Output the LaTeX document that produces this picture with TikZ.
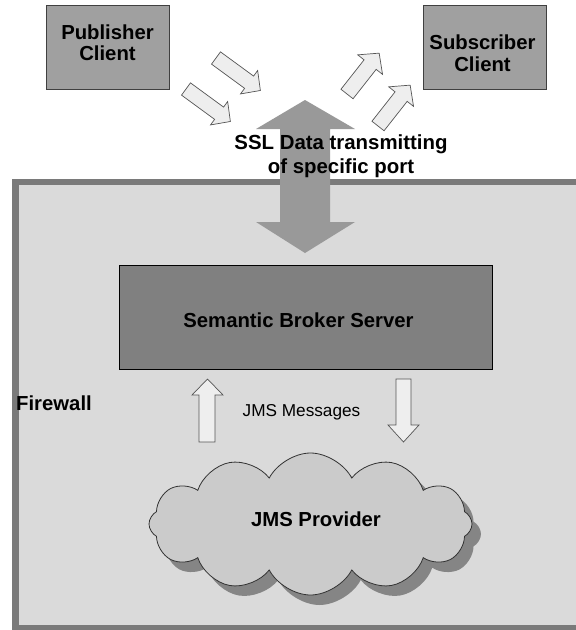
\documentclass[tikz,border=0pt]{standalone}
\usepackage{fontspec}
\setmainfont{Liberation Sans}
\usetikzlibrary{shapes.symbols,shadows}

\definecolor{zonefill}{HTML}{DADADA}
\definecolor{zoneedge}{HTML}{7A7A7A}
\definecolor{clientfill}{HTML}{A0A0A0}
\definecolor{serverfill}{HTML}{808080}
\definecolor{pipefill}{HTML}{999999}
\definecolor{flowfill}{HTML}{EEEEEE}
\definecolor{flowedge}{HTML}{555555}
\definecolor{cloudfill}{HTML}{CBCBCB}
\definecolor{cloudshade}{HTML}{858585}

\tikzset{
  clientbox/.style={draw=black!75, line width=0.8pt, fill=clientfill,
    minimum width=123pt, minimum height=84pt, inner sep=0pt},
  serverbox/.style={draw=black, line width=1pt, fill=serverfill,
    minimum width=373pt, minimum height=104pt, inner sep=0pt},
  boldlabel/.style={font=\bfseries\fontsize{20.3}{21.5}\selectfont, align=center, inner sep=0pt},
  plainlabel/.style={font=\fontsize{17.2}{19}\selectfont, inner sep=0pt},
  flowarrow/.style={draw=flowedge, fill=flowfill, line width=0.7pt, line join=miter},
  % block arrow drawn along local x: length / shaft half width / head half width / head length
  pics/blockarrow/.style args={#1/#2/#3/#4}{
    code={\path[flowarrow] (0,-#2) -- ({#1-#4},-#2) -- ({#1-#4},-#3) -- (#1,0)
      -- ({#1-#4},#3) -- ({#1-#4},#2) -- (0,#2) -- cycle;}
  },
}

\begin{document}
\begin{tikzpicture}[x=1pt,y=-1pt]
\useasboundingbox (0,0) rectangle (576,630);
\clip (0,0) rectangle (576,630);
\fill[white] (0,0) rectangle (576,630);

% protected zone behind the firewall
\draw[line width=6.5pt, draw=zoneedge, fill=zonefill] (15.5,182) rectangle (610,628);
\node[boldlabel, anchor=west] (fw) at (16,403) {Firewall};

% clients outside the firewall
\node[clientbox] (pub) at (107.5,47) {};
\node[boldlabel] (pubtext) at (107.5,42.5) {Publisher\\Client};
\node[clientbox] (sub) at (485,47) {};
\node[boldlabel] (subtext) at (482.5,53) {Subscriber\\Client};

% traffic towards and away from the port
\pic[rotate=-36.2] at (216,58) {blockarrow=55/7.6/14.5/14};
\pic[rotate=-36.2] at (186,89) {blockarrow=55/7.6/14.5/14};
\pic[rotate=51.8] at (347,94) {blockarrow=52/7.7/15.8/14.6};
\pic[rotate=51.8] at (378,126) {blockarrow=52/7.7/15.8/14.6};

% two-way channel through the firewall
\fill[pipefill] (305,100) -- (355,129) -- (330,129) -- (330,222) -- (355,222)
  -- (305,253) -- (256,222) -- (280,222) -- (280,129) -- (256,129) -- cycle;
\node[font=\bfseries\fontsize{20.4}{24}\selectfont, align=center, inner sep=0pt]
  (ssl) at (341,156) {SSL Data transmitting\\of specific port};

% broker
\node[serverbox] (broker) at (305.5,317) {};
\node[boldlabel] (brokertext) at (298.5,320.5) {Semantic Broker Server};

% message flow between broker and provider
\path[flowarrow] (207.5,379) -- (223,395) -- (215,395) -- (215,442) -- (199,442)
  -- (199,395) -- (192,395) -- cycle;
\path[flowarrow] (403.5,442) -- (419,425) -- (411,425) -- (411,379) -- (396,379)
  -- (396,425) -- (388,425) -- cycle;
\node[plainlabel] (jmsmsg) at (301.5,412) {JMS Messages};

% provider cloud
\node[cloud, cloud puffs=12, cloud puff arc=125, aspect=2.3,
  minimum width=323pt, minimum height=142pt, draw=black!80, line width=0.8pt,
  fill=cloudfill,
  drop shadow={shadow xshift=9pt, shadow yshift=-10pt, fill=cloudshade, opacity=1}]
  (jms) at (310.5,524) {};
\node[boldlabel] (jmstext) at (316,519) {JMS Provider};
\end{tikzpicture}
\end{document}
